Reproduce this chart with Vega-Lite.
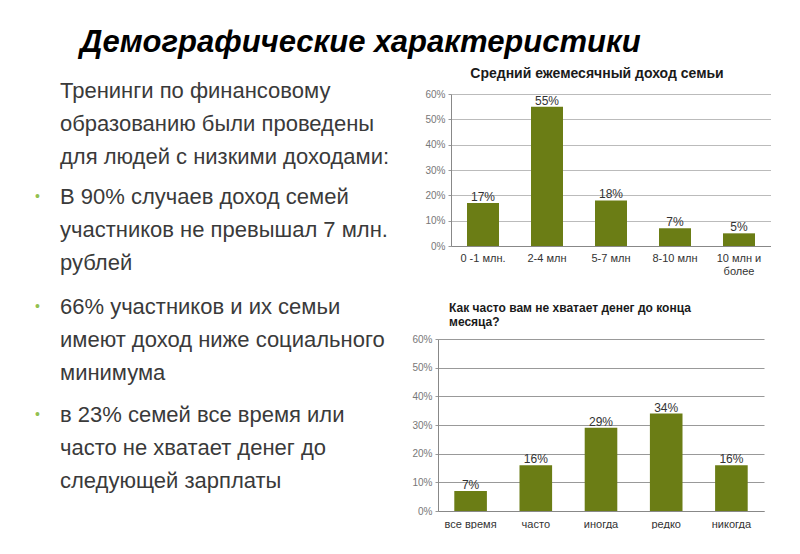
{
  "$schema": "https://vega.github.io/schema/vega-lite/v6.json",
  "background": "white",
  "padding": {"left": 0, "top": 27, "right": 0, "bottom": 0},
  "title": {"text": "Демографические характеристики", "anchor": "start", "dx": 80, "fontSize": 31, "fontStyle": "italic", "fontWeight": "bold", "font": "Liberation Sans", "color": "#000000", "offset": 8},
  "config": {"view": {"stroke": null}, "font": "Liberation Sans"},
  "datasets": {
    "lines": [
      {"para": 1, "row": 1, "text": " Тренинги по финансовому", "bullet": false},
      {"para": 1, "row": 2, "text": "образованию были проведены", "bullet": false},
      {"para": 1, "row": 3, "text": "для людей с низкими доходами:", "bullet": false},
      {"para": 2, "row": 1, "text": "В 90% случаев доход семей", "bullet": true},
      {"para": 2, "row": 2, "text": "участников не превышал 7 млн.", "bullet": false},
      {"para": 2, "row": 3, "text": "рублей", "bullet": false},
      {"para": 3, "row": 1, "text": "66% участников и их семьи", "bullet": true},
      {"para": 3, "row": 2, "text": "имеют доход ниже социального", "bullet": false},
      {"para": 3, "row": 3, "text": "минимума", "bullet": false},
      {"para": 4, "row": 1, "text": "в 23% семей все время или", "bullet": true},
      {"para": 4, "row": 2, "text": "часто не хватает денег до", "bullet": false},
      {"para": 4, "row": 3, "text": "следующей зарплаты", "bullet": false}
    ]
  },
  "spacing": 20,
  "vconcat": [
    {
      "spacing": 34,
      "hconcat": [
        {
          "width": 120,
          "height": 150,
          "data": {"name": "lines"},
          "transform": [{"filter": "datum.para <= 2"}],
          "encoding": {
            "y": {"field": "para", "type": "ordinal", "axis": null, "scale": {"type": "point", "padding": 0, "range": [-3, 103]}},
            "yOffset": {"field": "row", "type": "ordinal", "scale": {"type": "point", "padding": 0, "range": [0, 66]}}
          },
          "layer": [
            {
              "mark": {"type": "text", "align": "left", "baseline": "middle", "fontSize": 22, "font": "Liberation Sans", "color": "#3a3a3a"},
              "encoding": {"text": {"field": "text"}}
            },
            {
              "transform": [{"filter": "datum.bullet"}],
              "mark": {"type": "text", "align": "left", "baseline": "middle", "fontSize": 14, "dx": -25, "font": "Liberation Sans", "color": "#92C050", "text": "•"},
              "encoding": {}
            }
          ]
        },
        {
          "width": 320,
          "height": 152,
          "title": {"text": "Средний ежемесячный доход семьи", "frame": "group", "fontSize": 14, "font": "Liberation Sans", "fontWeight": "bold", "color": "#1a1a1a", "offset": 8, "dx": -14},
          "data": {"values": [
            {"cat": "0 -1 млн.", "v": 0.17},
            {"cat": "2-4 млн", "v": 0.55},
            {"cat": "5-7 млн", "v": 0.18},
            {"cat": "8-10 млн", "v": 0.07},
            {"cat": "10 млн и более", "v": 0.05}
          ]},
          "encoding": {
            "x": {"field": "cat", "type": "nominal", "sort": null, "title": null,
                  "scale": {"paddingInner": 0.5, "paddingOuter": 0.25},
                  "axis": {"labelAngle": 0, "ticks": false, "domainColor": "#888888", "labelColor": "#333333", "labelFontSize": 11, "labelPadding": 6, "labelFont": "Liberation Sans",
                           "labelExpr": "datum.label == '10 млн и более' ? ['10 млн и', 'более'] : datum.label"}},
            "y": {"field": "v", "type": "quantitative", "title": null,
                  "scale": {"domain": [0, 0.6]},
                  "axis": {"format": ".0%", "values": [0, 0.1, 0.2, 0.3, 0.4, 0.5, 0.6], "tickSize": 3, "tickColor": "#999999", "domainColor": "#888888", "gridColor": "#bbbbbb", "labelColor": "#777777", "labelFontSize": 10, "labelPadding": 3, "labelFont": "Liberation Sans"}}
          },
          "layer": [
            {"mark": {"type": "bar", "color": "#6B7D15"}},
            {"mark": {"type": "text", "baseline": "bottom", "dy": 1, "fontSize": 12, "color": "#333333", "font": "Liberation Sans"},
             "encoding": {"text": {"field": "v", "type": "quantitative", "format": ".0%"}}}
          ]
        }
      ]
    },
    {
      "spacing": 26,
      "hconcat": [
        {
          "width": 120,
          "height": 150,
          "data": {"name": "lines"},
          "transform": [{"filter": "datum.para >= 3"}],
          "encoding": {
            "y": {"field": "para", "type": "ordinal", "axis": null, "scale": {"type": "point", "padding": 0, "range": [-32, 76]}},
            "yOffset": {"field": "row", "type": "ordinal", "scale": {"type": "point", "padding": 0, "range": [0, 65]}}
          },
          "layer": [
            {
              "mark": {"type": "text", "align": "left", "baseline": "middle", "fontSize": 22, "font": "Liberation Sans", "color": "#3a3a3a"},
              "encoding": {"text": {"field": "text"}}
            },
            {
              "transform": [{"filter": "datum.bullet"}],
              "mark": {"type": "text", "align": "left", "baseline": "middle", "fontSize": 14, "dx": -25, "font": "Liberation Sans", "color": "#92C050", "text": "•"},
              "encoding": {}
            }
          ]
        },
        {
          "width": 326,
          "height": 172,
          "title": {"text": ["Как часто вам не хватает денег до конца", "месяца?"], "frame": "group", "anchor": "start", "fontSize": 12, "font": "Liberation Sans", "fontWeight": "bold", "color": "#1a1a1a", "offset": 5, "dx": 11},
          "data": {"values": [
            {"cat": "все время", "v": 0.07},
            {"cat": "часто", "v": 0.16},
            {"cat": "иногда", "v": 0.29},
            {"cat": "редко", "v": 0.34},
            {"cat": "никогда", "v": 0.16}
          ]},
          "encoding": {
            "x": {"field": "cat", "type": "nominal", "sort": null, "title": null,
                  "scale": {"paddingInner": 0.5, "paddingOuter": 0.25},
                  "axis": {"labelAngle": 0, "ticks": false, "domainColor": "#888888", "labelColor": "#333333", "labelFontSize": 11, "labelPadding": 7, "labelFont": "Liberation Sans"}},
            "y": {"field": "v", "type": "quantitative", "title": null,
                  "scale": {"domain": [0, 0.6]},
                  "axis": {"format": ".0%", "values": [0, 0.1, 0.2, 0.3, 0.4, 0.5, 0.6], "tickSize": 3, "tickColor": "#999999", "domainColor": "#888888", "gridColor": "#999999", "labelColor": "#777777", "labelFontSize": 10, "labelPadding": 3, "labelFont": "Liberation Sans"}}
          },
          "layer": [
            {"mark": {"type": "bar", "color": "#6B7D15"}},
            {"mark": {"type": "text", "baseline": "bottom", "dy": 1, "fontSize": 12, "color": "#333333", "font": "Liberation Sans"},
             "encoding": {"text": {"field": "v", "type": "quantitative", "format": ".0%"}}}
          ]
        }
      ]
    }
  ]
}
